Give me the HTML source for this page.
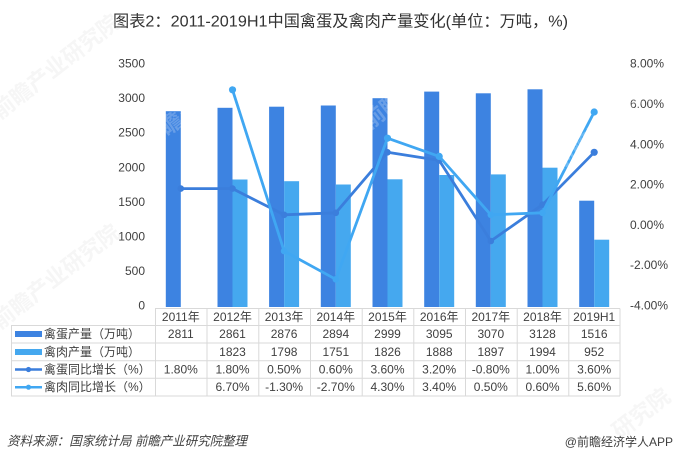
<!DOCTYPE html>
<html><head><meta charset="utf-8"><style>
html,body{margin:0;padding:0;background:#fff;}
svg{display:block;}
text{font-family:"Liberation Sans","Noto Sans CJK SC",sans-serif;}
</style></head><body>
<svg width="680" height="464" viewBox="0 0 680 464" xmlns="http://www.w3.org/2000/svg">
<rect width="680" height="464" fill="#fff"/>
<!-- title -->
<text x="113" y="26.5" font-size="16" fill="#333" textLength="455" lengthAdjust="spacingAndGlyphs">图表2：2011-2019H1中国禽蛋及禽肉产量变化(单位：万吨，%)</text>

<!-- left axis labels -->
<g font-size="12" fill="#404040" text-anchor="end" dominant-baseline="central">
<text x="145" y="305.5">0</text>
<text x="145" y="270.9">500</text>
<text x="145" y="236.4">1000</text>
<text x="145" y="201.8">1500</text>
<text x="145" y="167.3">2000</text>
<text x="145" y="132.7">2500</text>
<text x="145" y="98.2">3000</text>
<text x="145" y="63.6">3500</text>
</g>
<!-- right axis labels -->
<g font-size="12" fill="#404040" dominant-baseline="central">
<text x="630" y="63.6">8.00%</text>
<text x="630" y="103.9">6.00%</text>
<text x="630" y="144.3">4.00%</text>
<text x="630" y="184.6">2.00%</text>
<text x="630" y="224.9">0.00%</text>
<text x="630" y="265.2">-2.00%</text>
<text x="630" y="305.5">-4.00%</text>
</g>

<!-- egg bars -->
<g fill="#3D83E1">
<rect x="165.8" y="111.2" width="15" height="195.8"/>
<rect x="217.5" y="107.8" width="15" height="199.2"/>
<rect x="269.1" y="106.7" width="15" height="200.3"/>
<rect x="320.8" y="105.5" width="15" height="201.5"/>
<rect x="372.5" y="98.2" width="15" height="208.8"/>
<rect x="424.2" y="91.6" width="15" height="215.4"/>
<rect x="475.8" y="93.3" width="15" height="213.7"/>
<rect x="527.5" y="89.3" width="15" height="217.7"/>
<rect x="579.2" y="200.7" width="15" height="106.3"/>
</g>
<!-- meat bars -->
<g fill="#45A8EF">
<rect x="232.5" y="179.5" width="15" height="127.5"/>
<rect x="284.1" y="181.2" width="15" height="125.8"/>
<rect x="335.8" y="184.5" width="15" height="122.5"/>
<rect x="387.5" y="179.3" width="15" height="127.7"/>
<rect x="439.2" y="175.0" width="15" height="132.0"/>
<rect x="490.8" y="174.4" width="15" height="132.6"/>
<rect x="542.5" y="167.7" width="15" height="139.3"/>
<rect x="594.2" y="239.7" width="15" height="67.3"/>
</g>

<!-- egg growth line -->
<g stroke="#3B7EDC" fill="#3B7EDC">
<polyline fill="none" stroke-width="2.8" stroke-linejoin="round" points="180.8,188.6 232.5,188.6 284.1,214.8 335.8,212.8 387.5,152.3 439.2,160.4 490.8,241.0 542.5,204.7 594.2,152.3"/>
<g stroke="none">
<circle cx="180.8" cy="188.6" r="3.3"/><circle cx="232.5" cy="188.6" r="3.3"/><circle cx="284.1" cy="214.8" r="3.3"/><circle cx="335.8" cy="212.8" r="3.3"/><circle cx="387.5" cy="152.3" r="3.3"/><circle cx="439.2" cy="160.4" r="3.3"/><circle cx="490.8" cy="241.0" r="3.3"/><circle cx="542.5" cy="204.7" r="3.3"/><circle cx="594.2" cy="152.3" r="3.6"/>
</g>
</g>
<!-- meat growth line -->
<g stroke="#40A7F2" fill="#40A7F2">
<polyline fill="none" stroke-width="2.8" stroke-linejoin="round" points="232.5,89.8 284.1,251.1 335.8,279.3 387.5,138.2 439.2,156.4 490.8,214.8 542.5,212.8 594.2,112.0"/>
<g stroke="none">
<circle cx="232.5" cy="89.8" r="3.6"/><circle cx="284.1" cy="251.1" r="3.3"/><circle cx="335.8" cy="279.3" r="3.3"/><circle cx="387.5" cy="138.2" r="3.6"/><circle cx="439.2" cy="156.4" r="3.6"/><circle cx="490.8" cy="214.8" r="3.3"/><circle cx="542.5" cy="212.8" r="3.3"/><circle cx="594.2" cy="112.0" r="3.6"/>
</g>
</g>

<!-- watermarks -->
<g font-size="22" fill="#ffffff" opacity="0.22" font-weight="bold">
<text x="150" y="150" transform="rotate(-38 150 150)">前瞻产业研究院</text>
<text x="370" y="130" transform="rotate(-38 370 130)">前瞻产业研究院</text>
<text x="560" y="170" transform="rotate(-38 560 170)">前瞻产业研究院</text>
</g>
<g font-size="22" fill="#cccccc" opacity="0.18" font-weight="bold">
<text x="0" y="120" transform="rotate(-38 0 120)">前瞻产业研究院</text>
<text x="0" y="330" transform="rotate(-38 0 330)">前瞻产业研究院</text>
<text x="620" y="440" transform="rotate(-38 620 440)">研究院</text>
</g>

<!-- table grid -->
<g stroke="#d9d9d9" stroke-width="1" fill="none">
<line x1="155" y1="308.5" x2="620" y2="308.5"/>
<line x1="11" y1="325.5" x2="620" y2="325.5"/>
<line x1="11" y1="343" x2="620" y2="343"/>
<line x1="11" y1="360.7" x2="620" y2="360.7"/>
<line x1="11" y1="378.3" x2="620" y2="378.3"/>
<line x1="11" y1="396" x2="620" y2="396"/>
<line x1="11.5" y1="325.5" x2="11.5" y2="396"/>
<line x1="155.5" y1="308.5" x2="155.5" y2="396"/>
<line x1="207" y1="308.5" x2="207" y2="396"/>
<line x1="258.8" y1="308.5" x2="258.8" y2="396"/>
<line x1="310.5" y1="308.5" x2="310.5" y2="396"/>
<line x1="362.2" y1="308.5" x2="362.2" y2="396"/>
<line x1="413.8" y1="308.5" x2="413.8" y2="396"/>
<line x1="465.5" y1="308.5" x2="465.5" y2="396"/>
<line x1="517.2" y1="308.5" x2="517.2" y2="396"/>
<line x1="568.8" y1="308.5" x2="568.8" y2="396"/>
<line x1="620" y1="308.5" x2="620" y2="396"/>
</g>

<!-- legend icons -->
<rect x="15" y="331" width="27" height="6" fill="#3D83E1"/>
<rect x="15" y="349" width="27" height="6" fill="#45A8EF"/>
<line x1="15" y1="369.5" x2="42" y2="369.5" stroke="#3B7EDC" stroke-width="2.5"/>
<circle cx="28.5" cy="369.5" r="2.6" fill="#3B7EDC"/>
<line x1="15" y1="387.2" x2="42" y2="387.2" stroke="#40A7F2" stroke-width="2.5"/>
<circle cx="28.5" cy="387.2" r="2.6" fill="#40A7F2"/>

<g font-size="12" fill="#404040" dominant-baseline="central">
<text x="44" y="334.2">禽蛋产量（万吨）</text>
<text x="44" y="351.9">禽肉产量（万吨）</text>
<text x="44" y="369.5">禽蛋同比增长（%）</text>
<text x="44" y="387.2">禽肉同比增长（%）</text>
</g>

<!-- table values -->
<g font-size="12" fill="#404040" text-anchor="middle" dominant-baseline="central">
<text x="180.8" y="316.9">2011年</text><text x="232.5" y="316.9">2012年</text><text x="284.1" y="316.9">2013年</text><text x="335.8" y="316.9">2014年</text><text x="387.5" y="316.9">2015年</text><text x="439.2" y="316.9">2016年</text><text x="490.8" y="316.9">2017年</text><text x="542.5" y="316.9">2018年</text><text x="594.2" y="316.9">2019H1</text>

<text x="180.8" y="334.2">2811</text><text x="232.5" y="334.2">2861</text><text x="284.1" y="334.2">2876</text><text x="335.8" y="334.2">2894</text><text x="387.5" y="334.2">2999</text><text x="439.2" y="334.2">3095</text><text x="490.8" y="334.2">3070</text><text x="542.5" y="334.2">3128</text><text x="594.2" y="334.2">1516</text>

<text x="232.5" y="351.9">1823</text><text x="284.1" y="351.9">1798</text><text x="335.8" y="351.9">1751</text><text x="387.5" y="351.9">1826</text><text x="439.2" y="351.9">1888</text><text x="490.8" y="351.9">1897</text><text x="542.5" y="351.9">1994</text><text x="594.2" y="351.9">952</text>

<text x="180.8" y="369.5">1.80%</text><text x="232.5" y="369.5">1.80%</text><text x="284.1" y="369.5">0.50%</text><text x="335.8" y="369.5">0.60%</text><text x="387.5" y="369.5">3.60%</text><text x="439.2" y="369.5">3.20%</text><text x="490.8" y="369.5">-0.80%</text><text x="542.5" y="369.5">1.00%</text><text x="594.2" y="369.5">3.60%</text>

<text x="232.5" y="387.2">6.70%</text><text x="284.1" y="387.2">-1.30%</text><text x="335.8" y="387.2">-2.70%</text><text x="387.5" y="387.2">4.30%</text><text x="439.2" y="387.2">3.40%</text><text x="490.8" y="387.2">0.50%</text><text x="542.5" y="387.2">0.60%</text><text x="594.2" y="387.2">5.60%</text>
</g>

<!-- footer -->
<text x="7" y="441" font-size="13" font-style="italic" fill="#404040" dominant-baseline="central" textLength="240" lengthAdjust="spacingAndGlyphs">资料来源：国家统计局 前瞻产业研究院整理</text>
<text x="673" y="442" font-size="12" fill="#404040" text-anchor="end" dominant-baseline="central">@前瞻经济学人APP</text>
</svg>
</body></html>
